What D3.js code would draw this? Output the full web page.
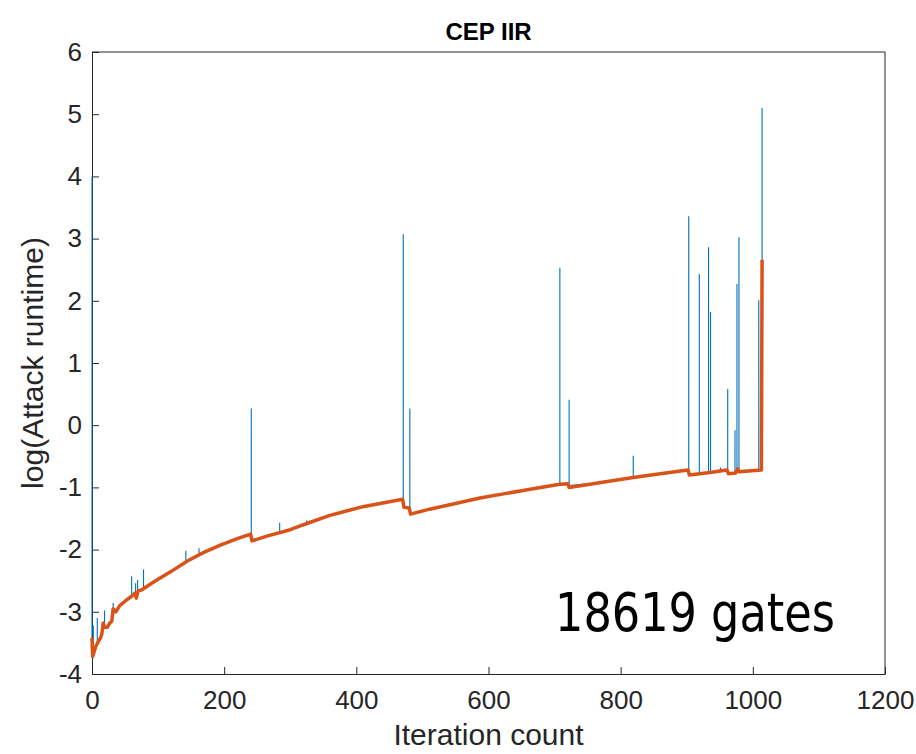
<!DOCTYPE html>
<html>
<head>
<meta charset="utf-8">
<script src="https://cdn.jsdelivr.net/npm/d3@7"></script>
<style>
  body { margin: 0; background: #fff; }
  svg { display: block; }
</style>
</head>
<body>
<div id="chart-container"></div>
<script>
// running minimum (orange): iteration, log runtime
const runIter = [0, 1, 3, 6, 10, 13, 15, 17, 19, 23, 27, 30, 32, 36, 42, 50, 60, 65, 67, 70, 75, 95, 120, 145, 170, 196, 221, 240, 242, 266, 300, 325, 360, 385, 410, 440, 470, 472, 480, 482, 511, 550, 587, 625, 663, 708, 720, 722, 770, 819, 860, 902, 904, 935, 961, 963, 974, 977, 979, 1013, 1014];
const runValue = [-3.42, -3.72, -3.65, -3.55, -3.47, -3.42, -3.35, -3.18, -3.25, -3.25, -3.18, -3.15, -2.95, -3.0, -2.9, -2.83, -2.75, -2.7, -2.78, -2.66, -2.65, -2.51, -2.35, -2.18, -2.04, -1.92, -1.82, -1.75, -1.86, -1.78, -1.68, -1.58, -1.45, -1.38, -1.31, -1.25, -1.19, -1.32, -1.33, -1.43, -1.35, -1.26, -1.17, -1.1, -1.03, -0.95, -0.94, -1.0, -0.92, -0.84, -0.78, -0.72, -0.8, -0.76, -0.72, -0.78, -0.77, -0.7, -0.75, -0.72, 2.66];

// per-iteration runtime spikes (blue): iteration, peak, value it returns to
const spikeIter = [0, 2, 8, 19, 32, 60, 66, 69, 78, 142, 162, 241, 284, 325, 471, 481, 708, 722, 819, 903, 919, 933, 936, 951, 962, 973, 976, 979, 1009, 1014];
const spikePeak = [4.0, -3.22, -3.1, -2.98, -2.86, -2.43, -2.54, -2.49, -2.32, -2.02, -1.98, 0.27, -1.57, -1.53, 3.07, 0.27, 2.53, 0.41, -0.49, 3.36, 2.43, 2.86, 1.82, -0.68, 0.58, -0.08, 2.27, 3.02, 2.01, 5.1];
const spikeBase = [-3.6, -3.68, -3.5, -3.25, -2.97, -2.75, -2.74, -2.7, -2.63, -2.2, -2.08, -1.8, -1.72, -1.6, -1.26, -1.38, -0.95, -0.97, -0.84, -0.76, -0.78, -0.76, -0.76, -0.74, -0.75, -0.77, -0.72, -0.73, -0.72, 2.66];

const xTicks = [0, 200, 400, 600, 800, 1000, 1200];
const yTicks = [-4, -3, -2, -1, 0, 1, 2, 3, 4, 5, 6];

const width = 916;
const height = 754;
const margin = { top: 52, right: 31, bottom: 80, left: 92 };

const x = d3.scaleLinear()
    .domain([0, 1200])
    .range([margin.left, width - margin.right]);

const y = d3.scaleLinear()
    .domain([-4, 6])
    .range([height - margin.bottom, margin.top]);

const run = runIter.map((d, i) => ({ iter: d, value: runValue[i], k: 0 }));

// blue trace: the running minimum plus a spike at each listed iteration
const blue = run.slice();
spikeIter.forEach((d, i) => {
    blue.push({ iter: d - 0.01, value: spikeBase[i], k: 0 });
    blue.push({ iter: d, value: spikePeak[i], k: 1 });
    blue.push({ iter: d + 0.01, value: spikeBase[i], k: 2 });
});
blue.sort((a, b) => a.iter - b.iter || a.k - b.k);

const svg = d3.select("#chart-container").append("svg")
    .attr("width", width)
    .attr("height", height)
    .attr("viewBox", `0 0 ${width} ${height}`)
    .style("font-family", "'Liberation Sans', Arial, sans-serif");

const axisColor = "#262626";
const plain = d => String(d);

// x axis
svg.append("g")
    .attr("transform", `translate(0,${height - margin.bottom})`)
    .call(d3.axisBottom(x).tickValues(xTicks).tickFormat(plain).tickSizeInner(-7).tickSizeOuter(0).tickPadding(17))
    .call(g => g.select(".domain").attr("stroke", axisColor))
    .call(g => g.selectAll(".tick line").attr("stroke", axisColor))
    .call(g => g.selectAll(".tick text").attr("fill", axisColor).style("font-size", "26px"));

// y axis
svg.append("g")
    .attr("transform", `translate(${margin.left},0)`)
    .call(d3.axisLeft(y).tickValues(yTicks).tickFormat(plain).tickSizeInner(-7).tickSizeOuter(0).tickPadding(10))
    .call(g => g.select(".domain").attr("stroke", axisColor))
    .call(g => g.selectAll(".tick line").attr("stroke", axisColor))
    .call(g => g.selectAll(".tick text").attr("fill", axisColor).style("font-size", "26px"));

// box
svg.append("path")
    .attr("d", `M${margin.left},${margin.top}H${width - margin.right}V${height - margin.bottom}`)
    .attr("fill", "none")
    .attr("stroke", axisColor)
    .attr("stroke-width", 1);

const line = d3.line()
    .x(d => x(d.iter))
    .y(d => y(d.value));

svg.append("path")
    .datum(blue)
    .attr("d", line)
    .attr("fill", "none")
    .attr("stroke", "#0072BD")
    .attr("stroke-width", 1.1);

svg.append("path")
    .datum(run)
    .attr("d", line)
    .attr("fill", "none")
    .attr("stroke", "#D95319")
    .attr("stroke-width", 3.5)
    .attr("stroke-linejoin", "round");

// title and labels
svg.append("text")
    .attr("x", (margin.left + width - margin.right) / 2)
    .attr("y", 40)
    .attr("text-anchor", "middle")
    .style("font-size", "24px")
    .style("font-weight", "bold")
    .attr("fill", "#000")
    .text("CEP IIR");

svg.append("text")
    .attr("x", (margin.left + width - margin.right) / 2)
    .attr("y", 745)
    .attr("text-anchor", "middle")
    .style("font-size", "30px")
    .attr("fill", axisColor)
    .text("Iteration count");

svg.append("text")
    .attr("transform", `translate(43,${(margin.top + height - margin.bottom) / 2}) rotate(-90)`)
    .attr("text-anchor", "middle")
    .style("font-size", "30px")
    .attr("fill", axisColor)
    .text("log(Attack runtime)");

svg.append("text")
    .attr("x", 555)
    .attr("y", 631)
    .attr("textLength", 280)
    .attr("lengthAdjust", "spacingAndGlyphs")
    .style("font-family", "'DejaVu Sans', sans-serif")
    .style("font-stretch", "condensed")
    .style("font-size", "53px")
    .attr("fill", "#000")
    .text("18619 gates");
</script>
</body>
</html>
